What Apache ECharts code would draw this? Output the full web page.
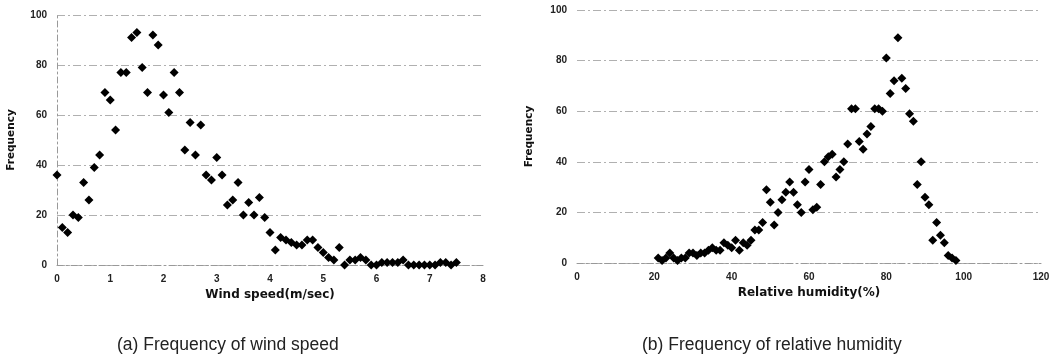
<!DOCTYPE html>
<html><head><meta charset="utf-8">
<script src="https://cdn.jsdelivr.net/npm/echarts@6/dist/echarts.min.js"></script>
<style>html,body{margin:0;padding:0;background:#fff}#c{width:1056px;height:361px}</style>
</head><body><div id="c"></div>
<script>
// (a) wind speed (m/sec) and frequency
const windSpeed = [0,0.1,0.2,0.3,0.4,0.5,0.6,0.7,0.8,0.9,
  1.0,1.1,1.2,1.3,1.4,1.5,1.6,1.7,1.8,1.9,
  2.0,2.1,2.2,2.3,2.4,2.5,2.6,2.7,2.8,2.9,
  3.0,3.1,3.2,3.3,3.4,3.5,3.6,3.7,3.8,3.9,
  4.0,4.1,4.2,4.3,4.4,4.5,4.6,4.7,4.8,4.9,
  5.0,5.1,5.2,5.3,5.4,5.5,5.6,5.7,5.8,5.9,
  6.0,6.1,6.2,6.3,6.4,6.5,6.6,6.7,6.8,6.9,
  7.0,7.1,7.2,7.3,7.4,7.5];
const windFreq = [36,15,13,20,19,33,26,39,44,69,
  66,54,77,77,91,93,79,69,92,88,
  68,61,77,69,46,57,44,56,36,34,
  43,36,24,26,33,20,25,20,27,19,
  13,6,11,10,9,8,8,10,10,7,
  5,3,2,7,0,2,2,3,2,0,
  0,1,1,1,1,2,0,0,0,0,
  0,0,1,1,0,1];
// (b) relative humidity (%) and frequency
const humidity = [21,22,23,24,25,26,27,28,29,30,
  31,32,33,34,35,36,37,38,39,40,
  41,42,43,44,45,46,47,48,49,50,
  51,52,53,54,55,56,57,58,59,60,
  61,62,63,64,65,66,67,68,69,70,
  71,72,73,74,75,76,77,78,79,80,
  81,82,83,84,85,86,87,88,89,90,
  91,92,93,94,95,96,97,98];
const humidityFreq = [2,1,2,4,2,1,2,2,4,4,
  3,4,4,5,6,5,5,8,7,6,
  9,5,8,7,9,13,13,16,29,24,
  15,20,25,28,32,28,23,20,32,37,
  21,22,31,40,42,43,34,37,40,47,
  61,61,48,45,51,54,61,61,60,81,
  67,72,89,73,69,59,56,31,40,26,
  23,9,16,11,8,3,2,1];

const windTicks = {min:0, max:8, interval:1};
const humTicks = {min:0, max:120, interval:20};
const freqTicks = {min:0, max:100, interval:20};

const captionA = '(a) Frequency of wind speed';
const captionB = '(b) Frequency of relative humidity';

const tickFont = {fontFamily:'Liberation Sans, Arial, sans-serif', fontSize:10, fontWeight:'bold', color:'#222'};
const nameFont = {fontFamily:'DejaVu Sans, sans-serif', fontSize:12, fontWeight:'bold', color:'#111'};
const gridLine = {show:true, lineStyle:{color:'#b0b0b0', width:1, type:[8,3,2,3]}};
const axisLine = {show:true, lineStyle:{color:'#999', width:1, type:[6,3,2,3]}};

function pairs(xs, ys){ return xs.map((x,i)=>[x, ys[i]]); }

const chart = echarts.init(document.getElementById('c'), null, {renderer:'canvas'});
chart.setOption({
  backgroundColor:'#fff',
  animation:false,
  grid:[
    {left:57, top:15, width:426, height:250},
    {left:577, top:10, width:464, height:253}
  ],
  xAxis:[
    {gridIndex:0, type:'value', min:windTicks.min, max:windTicks.max, interval:windTicks.interval,
     name:'Wind speed(m/sec)', nameLocation:'middle', nameGap:22, nameTextStyle:nameFont,
     axisLine:axisLine, axisTick:{show:false}, splitLine:{show:false},
     axisLabel:Object.assign({margin:9}, tickFont)},
    {gridIndex:1, type:'value', min:humTicks.min, max:humTicks.max, interval:humTicks.interval,
     name:'Relative humidity(%)', nameLocation:'middle', nameGap:23, nameTextStyle:nameFont,
     axisLine:axisLine, axisTick:{show:false}, splitLine:{show:false},
     axisLabel:Object.assign({margin:9}, tickFont)}
  ],
  yAxis:[
    {gridIndex:0, type:'value', min:freqTicks.min, max:freqTicks.max, interval:freqTicks.interval,
     name:'Frequency', nameLocation:'middle', nameGap:40, nameTextStyle:Object.assign({}, nameFont, {fontSize:10.5}),
     axisLine:axisLine, axisTick:{show:false}, splitLine:gridLine,
     axisLabel:Object.assign({margin:10}, tickFont)},
    {gridIndex:1, type:'value', min:freqTicks.min, max:freqTicks.max, interval:freqTicks.interval,
     name:'Frequency', nameLocation:'middle', nameGap:42, nameTextStyle:Object.assign({}, nameFont, {fontSize:10.5}),
     axisLine:{show:false}, axisTick:{show:false}, splitLine:gridLine,
     axisLabel:Object.assign({margin:10}, tickFont)}
  ],
  series:[
    {type:'scatter', xAxisIndex:0, yAxisIndex:0, symbol:'diamond', symbolSize:9,
     itemStyle:{color:'#000', opacity:1}, data:pairs(windSpeed, windFreq)},
    {type:'scatter', xAxisIndex:1, yAxisIndex:1, symbol:'diamond', symbolSize:9,
     itemStyle:{color:'#000', opacity:1}, data:pairs(humidity, humidityFreq)}
  ],
  graphic:[
    {type:'text', left:117, top:336, style:{text:captionA, fontFamily:'Liberation Sans, Arial, sans-serif', fontSize:17.5, fill:'#222'}},
    {type:'text', left:642, top:336, style:{text:captionB, fontFamily:'Liberation Sans, Arial, sans-serif', fontSize:17.5, fill:'#222'}}
  ]
});
</script>
</body></html>
